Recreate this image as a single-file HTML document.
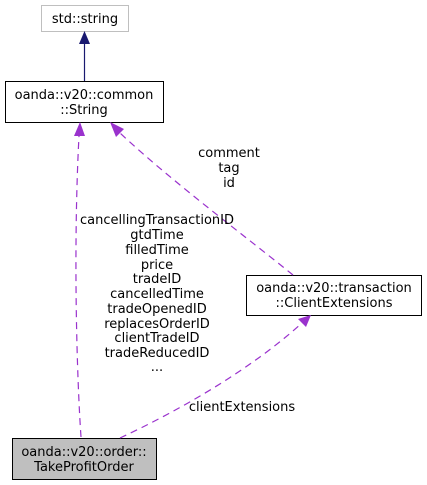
<!DOCTYPE html>
<html><head><style>body{margin:0;background:#fff}svg{display:block}text{font-family:"DejaVu Sans","Liberation Sans",sans-serif;font-size:13px;fill:#000}</style></head><body>
<svg width="427" height="485" viewBox="0 0 427 485">
<rect x="41.5" y="5.5" width="87" height="26" fill="#fff" stroke="#bfbfbf"/>
<text x="85" y="23" text-anchor="middle">std::string</text>
<rect x="5.5" y="81.5" width="158" height="41" fill="#fff" stroke="#000"/>
<text x="84" y="99" text-anchor="middle">oanda::v20::common</text>
<text x="84" y="114" text-anchor="middle">::String</text>
<rect x="246.5" y="275.5" width="175" height="40" fill="#fff" stroke="#000"/>
<text x="334" y="292" text-anchor="middle">oanda::v20::transaction</text>
<text x="334" y="307" text-anchor="middle">::ClientExtensions</text>
<rect x="12.5" y="438.5" width="144" height="41" fill="#bfbfbf" stroke="#000"/>
<text x="84" y="456" text-anchor="middle">oanda::v20::order::</text>
<text x="84" y="471" text-anchor="middle">TakeProfitOrder</text>
<line x1="84.5" y1="81" x2="84.5" y2="43" stroke="#191970" stroke-width="1.2"/>
<polygon points="79,44 90,44 84.5,31" fill="#191970"/>
<g stroke="#9a32cd" stroke-width="1.2" fill="none" stroke-dasharray="7,5">
<path d="M81,437 C77,380 73,250 79,136"/>
<path d="M293,275 C250,240 170,180 120,133"/>
<path d="M120,438 C180,410 250,370 302,323"/>
</g>
<g fill="#9a32cd">
<polygon points="74,136 85,136 80,122"/>
<polygon points="116,137 124,129 110,122"/>
<polygon points="298,319 306,327 311,315"/>
</g>
<g text-anchor="middle">
<text x="229" y="157">comment</text>
<text x="229" y="172">tag</text>
<text x="229" y="187">id</text>
<text x="157" y="224">cancellingTransactionID</text>
<text x="157" y="239">gtdTime</text>
<text x="157" y="254">filledTime</text>
<text x="157" y="269">price</text>
<text x="157" y="283">tradeID</text>
<text x="157" y="298">cancelledTime</text>
<text x="157" y="313">tradeOpenedID</text>
<text x="157" y="328">replacesOrderID</text>
<text x="157" y="342">clientTradeID</text>
<text x="157" y="357">tradeReducedID</text>
<text x="157" y="371">...</text>
<text x="242" y="411">clientExtensions</text>
</g>
</svg>
</body></html>
